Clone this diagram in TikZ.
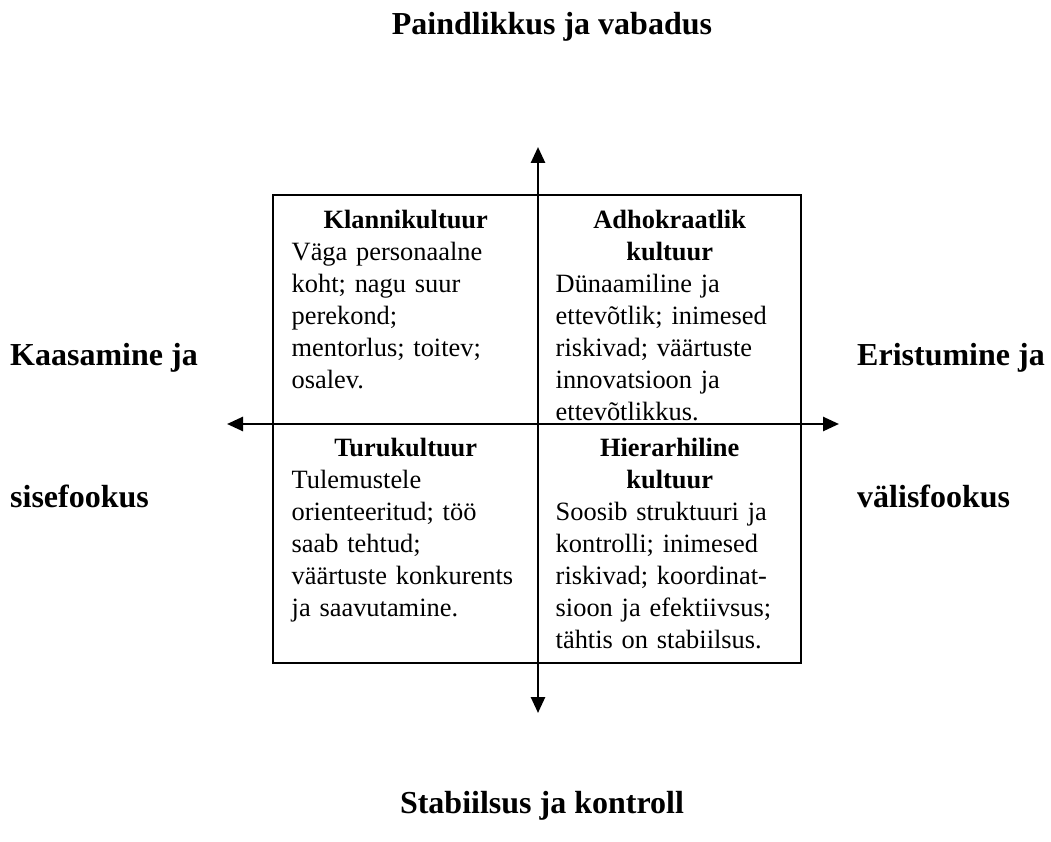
\documentclass[tikz,border=0pt]{standalone}
\usepackage{fontspec}
\setmainfont{Liberation Serif}
\usetikzlibrary{arrows.meta}
\newcommand\quadfont{\fontsize{26.4}{32}\selectfont\frenchspacing}
\newcommand\axisfont{\fontsize{32}{37}\selectfont\bfseries}
\newcommand\firstline{\rule{0pt}{24pt}}
\begin{document}
\begin{tikzpicture}[x=1pt,y=-1pt,
  frame/.style={line width=1.3pt},
  axis/.style={line width=2.6pt,-{Triangle[length=16pt,width=14pt]}},
  quad/.style={anchor=north west,inner sep=0pt,text width=228pt,font=\quadfont},
  axislabel/.style={inner sep=0pt,font=\axisfont}]
\useasboundingbox (0,0) rectangle (1051,842);

% frame of the four quadrants
\coordinate (NW) at (273,195);
\coordinate (SE) at (801,663);
\coordinate (Ntop) at (538,195);
\coordinate (Nbot) at (538,663);
\coordinate (Wl) at (273,424);
\coordinate (Er) at (801,424);
\coordinate (tipN) at (538,147);
\coordinate (tipS) at (538,713);
\coordinate (tipW) at (227,424);
\coordinate (tipE) at (839,424);

\draw[frame] (NW) rectangle (SE);
\draw[frame] (Ntop) -- (Nbot);
\draw[frame] (Wl) -- (Er);

% axes leaving the frame
\draw[axis] (Ntop) -- (tipN);
\draw[axis] (Nbot) -- (tipS);
\draw[axis] (Wl) -- (tipW);
\draw[axis] (Er) -- (tipE);

% axis captions
\node[axislabel,anchor=base] (top) at (552,35) {Paindlikkus ja vabadus};
\node[axislabel,anchor=base] (bottom) at (542,813) {Stabiilsus ja kontroll};
\node[axislabel,anchor=base west] (left1) at (10,365) {Kaasamine ja};
\node[axislabel,anchor=base west] (left2) at (10,507) {sisefookus};
\node[axislabel,anchor=base west] (right1) at (857,365) {Eristumine ja};
\node[axislabel,anchor=base west] (right2) at (857,507) {välisfookus};

% quadrant texts
\node[quad] (clan) at (291.5,204) {{\centering\bfseries\firstline Klannikultuur\par}
  \raggedright Väga personaalne\\koht; nagu suur\\perekond;\\mentorlus; toitev;\\osalev.};
\node[quad] (adhoc) at (555.5,204) {{\centering\bfseries\firstline Adhokraatlik\\kultuur\par}
  \raggedright Dünaamiline ja\\ettevõtlik; inimesed\\riskivad; väärtuste\\innovatsioon ja\\ettevõtlikkus.};
\node[quad] (market) at (291.5,432) {{\centering\bfseries\firstline Turukultuur\par}
  \raggedright Tulemustele\\orienteeritud; töö\\saab tehtud;\\väärtuste konkurents\\ja saavutamine.};
\node[quad] (hier) at (555.5,432) {{\centering\bfseries\firstline Hierarhiline\\kultuur\par}
  \raggedright Soosib struktuuri ja\\kontrolli; inimesed\\riskivad; koordinat-\\sioon ja efektiivsus;\\tähtis on stabiilsus.};
\end{tikzpicture}
\end{document}
